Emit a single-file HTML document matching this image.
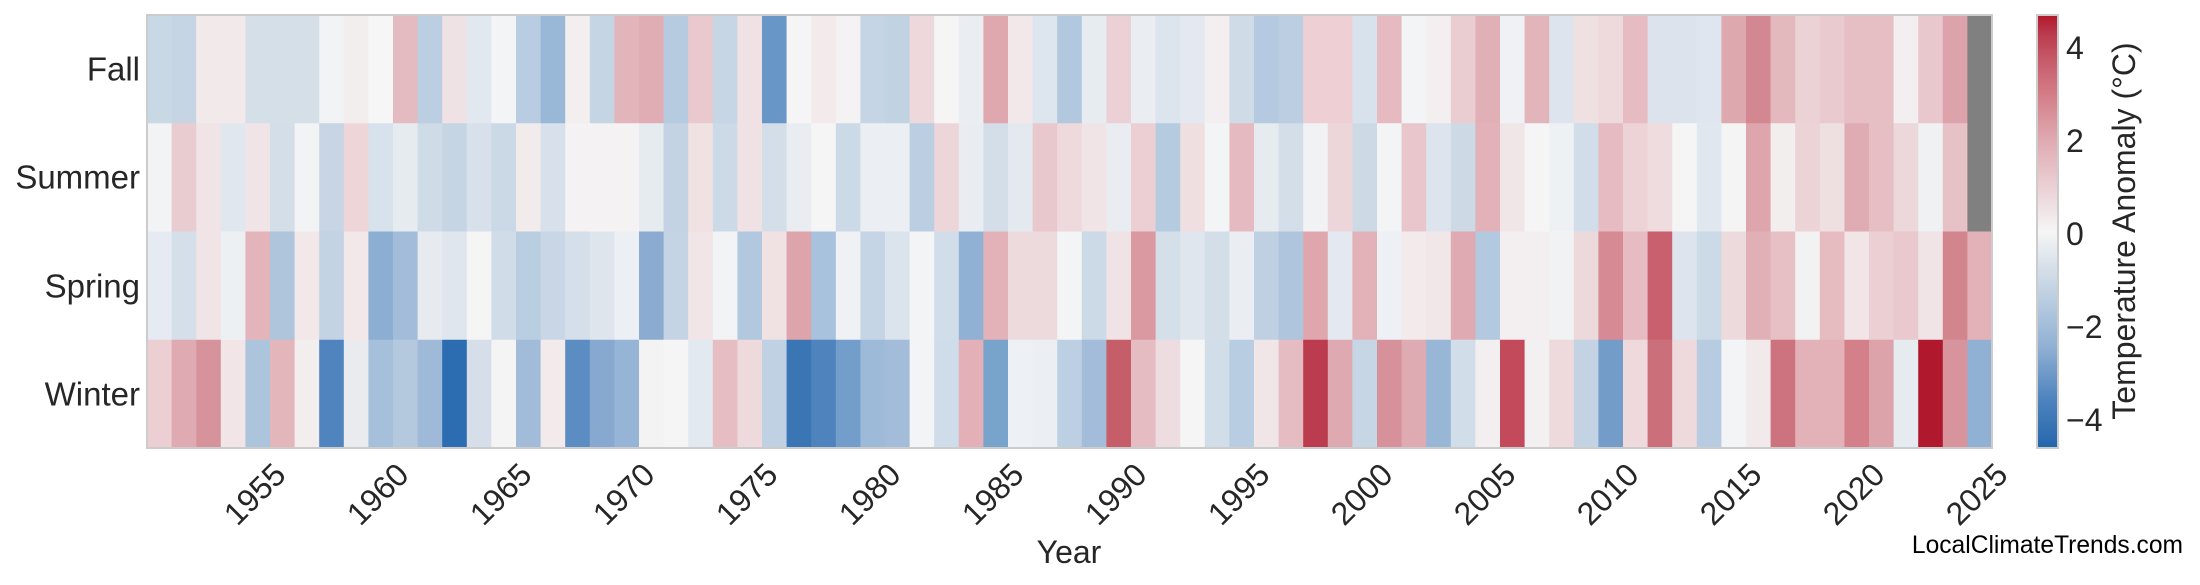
<!DOCTYPE html>
<html><head><meta charset="utf-8">
<style>
html,body{margin:0;padding:0;background:#fff;}
svg{display:block;font-family:"Liberation Sans",Arial,sans-serif;}
</style></head>
<body>
<svg id="s" width="2200" height="585" viewBox="0 0 2200 585" xmlns="http://www.w3.org/2000/svg">
<defs>
<linearGradient id="cb" x1="0" y1="1" x2="0" y2="0">
<stop offset="0" stop-color="#2166ac"/>
<stop offset="0.02" stop-color="#2c6cb0"/>
<stop offset="0.115" stop-color="#4f84be"/>
<stop offset="0.235" stop-color="#91b1d4"/>
<stop offset="0.39" stop-color="#ccd9e6"/>
<stop offset="0.5" stop-color="#f5f5f5"/>
<stop offset="0.715" stop-color="#dfa8b0"/>
<stop offset="0.81" stop-color="#d4808a"/>
<stop offset="0.885" stop-color="#c8606e"/>
<stop offset="0.955" stop-color="#bb3b4f"/>
<stop offset="1" stop-color="#b2182b"/>
</linearGradient>
</defs>
<g id="cells"></g>
<rect x="147" y="15" width="1845" height="433" fill="none" stroke="#cccccc" stroke-width="2"/>
<rect x="2037" y="15" width="21" height="433" fill="url(#cb)" stroke="#cccccc" stroke-width="2"/>
<g font-size="33" fill="#262626" text-anchor="end" dominant-baseline="central">
<text x="140" y="69">Fall</text>
<text x="140" y="177">Summer</text>
<text x="140" y="286">Spring</text>
<text x="140" y="394">Winter</text>
</g>
<g id="xt" font-size="32" fill="#262626" text-anchor="middle" dominant-baseline="central"></g>
<text x="1069" y="552" font-size="32" fill="#262626" text-anchor="middle" dominant-baseline="central">Year</text>
<g font-size="32" fill="#262626" dominant-baseline="central">
<text x="2066" y="48">4</text>
<text x="2066" y="141">2</text>
<text x="2066" y="234">0</text>
<text x="2066" y="327">−2</text>
<text x="2066" y="420">−4</text>
</g>
<text transform="translate(2124,231) rotate(-90)" font-size="32" fill="#262626" text-anchor="middle" dominant-baseline="central">Temperature Anomaly (°C)</text>
<text x="2183" y="553" font-size="24.6" fill="#000" text-anchor="end">LocalClimateTrends.com</text>
</svg>
<script>
var rows=[
"c9d8e5,c5d5e3,f2eaea,f2eaea,d5dfe8,d5dfe8,d5dfe8,f2f3f4,f2eeee,f6f6f6,e4bbc0,bccee1,eee2e5,e1e8ef,f3f4f6,b8cde1,99b7d6,f2efee,c5d5e3,e2b5ba,e0adb4,b7cbe0,e9c9ce,c7d6e5,f0e2e4,6897c7,f6f5f6,f3eaeb,f5f2f3,c5d5e5,c1d2e3,edd9dc,f5f5f5,eaedf1,dea8ae,f2e8ea,dde5ee,b2c8de,e7ecf1,ebd1d5,eaedf2,dce4ed,e4e9f1,f3eeef,cfdbe7,b5cae0,bccee2,edcfd4,edcfd4,d8e2ec,e6bac0,f3f4f6,f3eeef,eacdd1,e1b0b7,f0f1f4,e2b5bb,dde4ed,efe0e2,eed9dc,e6bcc2,dce3ec,dce3ec,e0e6ef,dea8af,d38891,e4b9be,ead2d5,e8cacf,e5bfc4,e5bfc4,f3eeef,e8c8cd,dca3aa,808080",
"f2f3f5,e9ccd0,f0e4e6,e1e7ef,f0e4e6,d3dee9,f2f3f5,c7d5e4,edd5d8,d8e2ec,e6ebf0,cfdce8,c6d5e4,d8e1eb,cbd8e6,f2ebeb,d8e1eb,f4f2f2,f4f2f3,f4f2f3,e6ebf0,c3d3e4,f0e1e3,ccd9e7,f0e2e4,d3dee9,e9edf2,f5f5f5,ccd9e6,ebeff3,ebeff3,bccee2,edd6d9,e9edf2,d3dee9,e4e9f0,e9c8cd,eed9dc,f0e4e6,e9ecf1,ebcfd3,b5cbe0,efdfe1,f3f4f5,e5bbc1,e6ebf0,d3dee9,f1f2f4,edd6d9,cddae6,f3f4f5,e8c6cc,dde4ed,cddae6,e2b2b8,f0e6e8,f5f5f5,eef1f4,d1dde9,e6bbc1,edd2d6,efdcdf,f5f5f5,e0e7ef,f4f4f4,dfa5ac,f3eeee,ebd3d6,eedfe1,e0acb3,e6bfc4,ecd7da,eff1f3,e6c1c5,808080",
"e6ebf3,d5dfe9,f0e4e6,edf0f3,e3b5bb,aec5dc,f2e8e9,c3d3e4,f2e8e9,8caed2,a2bcd9,e7ebef,dfe6ee,f5f5f5,d0dce8,bacee2,c8d6e5,d5dfe9,dfe5ed,ecf0f4,8babd0,c5d4e4,f1e5e7,f2f3f5,b2c8de,f0e1e3,dea4ab,a8c1dd,eff1f4,c5d5e5,dbe3ec,f3f4f5,d1dde9,91b1d4,e3b2b8,eddadd,eddadd,f3f4f6,ccd9e6,f0e3e5,da99a1,d5dfe9,dfe6ee,d3dee9,eaeef3,bfd0e3,aec5dd,dfa7ad,e4e9f1,e3b2b8,edf0f4,f3eaec,f1e6e8,e0aab2,b2c9df,f3eeef,f3eeef,f1f2f4,ecd9dc,d68b94,e6bcc2,c8606e,dde4ed,ccd9e6,eddadd,e1b0b7,e6c0c5,f2f2f3,e6bcc1,f1e5e7,ebcfd3,e9c9ce,f1e4e6,d3858e,e2b2b8",
"eccfd3,dfaab2,d6939c,f1e5e7,adc4dd,e3b6bc,f3eeee,4f84be,e9ebef,a6c0dc,b4c9de,9fbad9,2c6cb0,d6dfe9,f4f4f5,a2bbd9,f3eaeb,5b8cc2,87a9d0,96b4d6,f4f3f3,f5f5f5,e3e9f1,e5bdc2,eed9dc,c0d1e3,3a76b4,4f83bd,739dcb,9ebad9,a2bcd9,f3f4f5,cfdce9,e3b0b7,78a3cb,edf0f4,ebeff3,bdcfe3,a3bcd9,c65e6a,e4bcc1,eedde0,f5f5f5,d1dde9,b8cde2,f0e6e8,e5bcc1,bb3b4f,dfa9b1,c7d6e5,d7919b,dfabb3,98b6d6,d1dde9,f3eef0,c34a5a,f3f0f2,eedadd,c3d3e4,739cc8,eed9dc,cb6f7b,eed9dc,b8cce1,f3f4f5,f2e9ea,cd737f,e2b2b8,e2b2b8,d4808a,dca3aa,e6ebf0,b0182d,d8949c,91b1d4"
];
var NS="http://www.w3.org/2000/svg";
var g=document.getElementById("cells");
var x0=147,cw=1845/75,y0=15,rh=433/4;
rows.forEach(function(r,i){
  r.split(",").forEach(function(c,j){
    var e=document.createElementNS(NS,"rect");
    var xa=x0+j*cw, xb=x0+(j+1)*cw;
    e.setAttribute("x",xa.toFixed(2));
    e.setAttribute("y",(y0+i*rh).toFixed(2));
    e.setAttribute("width",(xb-xa+0.6).toFixed(2));
    e.setAttribute("height",(rh+0.6).toFixed(2));
    e.setAttribute("fill","#"+c);
    g.appendChild(e);
  });
});
var xt=document.getElementById("xt");
for(var y=1955;y<=2025;y+=5){
  var cx=x0+(y-1951+0.5)*cw-3;
  var t=document.createElementNS(NS,"text");
  t.setAttribute("transform","translate("+cx.toFixed(1)+",494) rotate(-45)");
  t.textContent=y;
  xt.appendChild(t);
}
</script>
</body></html>
